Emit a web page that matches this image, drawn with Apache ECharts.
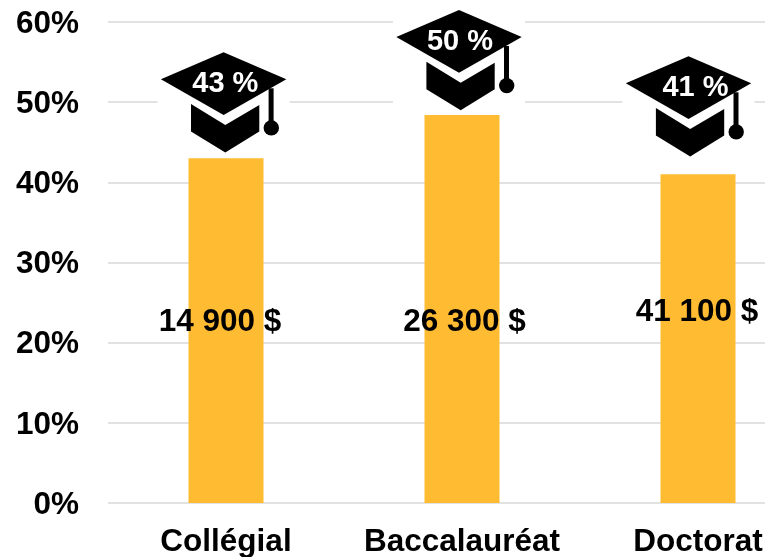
<!DOCTYPE html>
<html>
<head>
<meta charset="utf-8">
<style>
  html, body { margin: 0; padding: 0; background: #fff; }
  #main { width: 765px; height: 557px; }
</style>
<script src="https://cdn.jsdelivr.net/npm/echarts@6/dist/echarts.min.js"></script>
</head>
<body>
<div id="main"></div>
<script>
const categories = ['Collégial', 'Baccalauréat', 'Doctorat'];
const barValues = [43, 48.4, 41];
const hatLabels = ['43 %', '50 %', '41 %'];
const salaryLabels = ['14 900 $', '26 300 $', '41 100 $'];
const salaryLevels = [22.5, 22.5, 23.8];
const yTicks = [0, 10, 20, 30, 40, 50, 60];

// decalage des chapeaux par rapport au haut des barres (px)
const hatShiftX = [-2.4, -3, -9.5];
const hatShiftY = [-106, -105, -118];
const hatTextX = [1.7, 1, 7];
const salaryShiftX = [-6, 2.5, -1];

const font = 'Liberation Sans, Arial, sans-serif';
const chart = echarts.init(document.getElementById('main'));

// chapeau dessine depuis son sommet
function renderHat(params, api) {
  const i = params.dataIndex;
  const top = api.coord([api.value(0), api.value(1)]);
  const x = top[0] + hatShiftX[i];
  const y = top[1] + hatShiftY[i];
  const black = { fill: '#000' };
  return {
    type: 'group',
    x: x,
    y: y,
    children: [
      { type: 'rect', shape: { x: -66, y: -6, width: 132, height: 109 }, style: { fill: '#fff' } },
      { type: 'polygon', shape: { points: [[0, 0], [62.7, 27], [0, 62.7], [-62.7, 27]] }, style: black },
      { type: 'polygon', shape: { points: [[-32.6, 51.7], [1.7, 72.7], [35.7, 52.7], [35.7, 79.3], [1.7, 100.3], [-32.6, 79.3]] }, style: black },
      { type: 'rect', shape: { x: 45, y: 36, width: 5, height: 40 }, style: black },
      { type: 'circle', shape: { cx: 47.7, cy: 75.6, r: 7.7 }, style: black },
      {
        type: 'text',
        style: {
          x: hatTextX[i], y: 32,
          text: hatLabels[i],
          fill: '#fff',
          font: 'bold 29px ' + font,
          align: 'center',
          verticalAlign: 'middle'
        }
      }
    ]
  };
}

// montant affiche sur la barre
function renderSalary(params, api) {
  const i = params.dataIndex;
  const pos = api.coord([api.value(0), api.value(1)]);
  return {
    type: 'text',
    style: {
      x: pos[0] + salaryShiftX[i],
      y: pos[1],
      text: salaryLabels[i],
      fill: '#000',
      font: 'bold 31.5px ' + font,
      align: 'center',
      verticalAlign: 'middle'
    }
  };
}

chart.setOption({
  animation: false,
  backgroundColor: '#fff',
  grid: { left: 108, width: 708, top: 22, height: 481, outerBoundsMode: 'none' },
  xAxis: {
    type: 'category',
    data: categories,
    axisLine: { show: false },
    axisTick: { show: false },
    axisLabel: { interval: 0, margin: 23, color: '#000', fontFamily: font, fontWeight: 'bold', fontSize: 31.5 }
  },
  yAxis: {
    type: 'value',
    min: yTicks[0],
    max: yTicks[yTicks.length - 1],
    interval: 10,
    axisLine: { show: false },
    axisTick: { show: false },
    axisLabel: {
      margin: 29,
      formatter: '{t|{value}%}',
      rich: {
        t: { padding: [4, 0, 0, 0], color: '#000', fontFamily: font, fontWeight: 'bold', fontSize: 31.5 }
      }
    },
    splitLine: { lineStyle: { color: '#e2e2e2', width: 2 } }
  },
  series: [
    {
      type: 'bar',
      data: barValues,
      barWidth: 75,
      itemStyle: { color: '#FFBC33' }
    },
    {
      type: 'custom',
      data: barValues.map((v, i) => [i, v]),
      renderItem: renderHat,
      z: 5
    },
    {
      type: 'custom',
      data: salaryLevels.map((v, i) => [i, v]),
      renderItem: renderSalary,
      z: 6
    }
  ]
});
</script>
</body>
</html>
